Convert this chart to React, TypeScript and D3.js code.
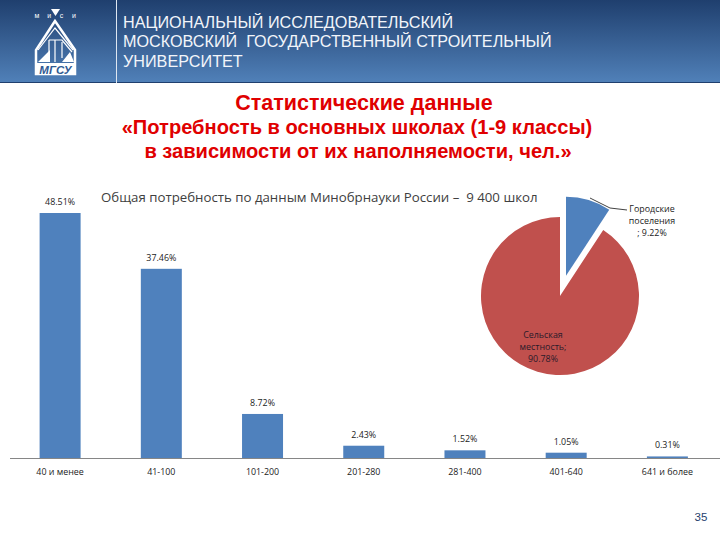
import React from 'react';
import * as d3 from 'd3';

const categories = ['40 и менее', '41-100', '101-200', '201-280', '281-400', '401-640', '641 и более'];
const shares = [48.51, 37.46, 8.72, 2.43, 1.52, 1.05, 0.31];
const pieNames = ['Городские поселения', 'Сельская местность'];
const pieShares = [9.22, 90.78];
const headerLines = [
  'НАЦИОНАЛЬНЫЙ ИССЛЕДОВАТЕЛЬСКИЙ',
  'МОСКОВСКИЙ  ГОСУДАРСТВЕННЫЙ СТРОИТЕЛЬНЫЙ',
  'УНИВЕРСИТЕТ'
];

const width = 720;
const height = 540;
const baseY = 458;
const labelFont = '"Open Sans", "Noto Sans", sans-serif';

const x = d3.scaleBand<string>().domain(categories).range([9.5, 718]).paddingInner(0.595).paddingOuter(0.2975);
const y = d3.scaleLinear().domain([0, 48.51]).range([baseY, 213]);

const pieCx = 560;
const pieCy = 296;
const pieR = 79;
const explode = 21;
const pieArcs = d3.pie<number>().sort(null)(pieShares);
const arc = d3.arc<d3.PieArcDatum<number>>().innerRadius(0).outerRadius(pieR);

const Logo = () => (
  <g fill="none" stroke="#fff">
    <path d="M51 9h9l-4.500 7z" fill="#fff" stroke="none" />
    {['м', 'и', 'с', 'и'].map((c, i) => (
      <text key={i} x={37 + i * 12.300} y={18} fontSize={7} fill="#fff" stroke="none" textAnchor="middle" fontFamily="Liberation Sans">
        {c}
      </text>
    ))}
    <path d="M55 21L36 50V74H75V50z" strokeWidth={2.500} />
    <path d="M38 50L55 28L73 50" strokeWidth={1.200} />
    <path d="M49 40V62M55 40V62M62 42V58M49 40H62L72 52" strokeWidth={1.200} />
    <path d="M38 62L50 50V62zM62 62L74 62L70 52z" fill="#fff" stroke="none" />
    <rect x={36} y={63} width={39} height={12} fill="#fff" stroke="none" />
    <text x={55.500} y={73.500} fontSize={11.500} fontWeight="bold" fontStyle="italic" fill="#2f5a93" stroke="none" textAnchor="middle" fontFamily="Liberation Sans">
      МГСУ
    </text>
  </g>
);

const App = () => {
  const fmt = (v: number) => v.toFixed(2) + '%';

  return (
    <svg width={width} height={height} style={{ position: 'absolute', left: 0, top: 0, background: '#fff' }}>
      <defs>
        <linearGradient id="head" x1="0" y1="0" x2="0" y2="1">
          <stop offset="0" stopColor="#1f3f6e" />
          <stop offset="1" stopColor="#5080b8" />
        </linearGradient>
      </defs>

      <rect width={width} height={82} fill="url(#head)" />
      <line x1={0} x2={width} y1={82.500} y2={82.500} stroke="#1f3f6e" />
      <line x1={116.500} x2={116.500} y1={0} y2={83} stroke="#dfe7f1" />
      <Logo />
      {headerLines.map((t, i) => (
        <text key={i} x={123} y={27.500 + i * 19.500} fill="#f2f5fa" fontSize={16.200} fontFamily="Liberation Sans" xmlSpace="preserve">
          {t}
        </text>
      ))}

      <g fill="#e00000" fontWeight="bold" fontFamily="Liberation Sans" textAnchor="middle">
        <text x={364} y={110} fontSize={21.500}>Статистические данные</text>
        <text x={357} y={134} fontSize={20.100}>«Потребность в основных школах (1-9 классы)</text>
        <text x={358} y={158} fontSize={20.100}>в зависимости от их наполняемости, чел.»</text>
      </g>

      <text x={101} y={201.500} fontSize={13.250} fill="#404040" fontFamily={labelFont} xmlSpace="preserve">
        Общая потребность по данным Минобрнауки России –  9 400 школ
      </text>

      {categories.map((c, i) => (
        <g key={c}>
          <rect x={x(c)} y={y(shares[i])} width={x.bandwidth()} height={baseY - y(shares[i])} fill="#4f81bd" />
          <text x={x(c)! + x.bandwidth() / 2} y={y(shares[i]) - 8} fontSize={8.900} fill="#222" textAnchor="middle" fontFamily={labelFont}>
            {fmt(shares[i])}
          </text>
          <text x={x(c)! + x.bandwidth() / 2} y={475} fontSize={8.900} fill="#222" textAnchor="middle" fontFamily={labelFont}>
            {c}
          </text>
        </g>
      ))}
      <line x1={10} x2={720} y1={baseY + 0.500} y2={baseY + 0.500} stroke="#868686" />

      <g transform={`translate(${pieCx},${pieCy})`}>
        {pieArcs.map((a, i) => {
          const mid = (a.startAngle + a.endAngle) / 2;
          const off = i === 0 ? explode : 0;
          return (
            <path
              key={pieNames[i]}
              d={arc(a)!}
              fill={i === 0 ? '#4f81bd' : '#c0504d'}
              transform={`translate(${Math.sin(mid) * off},${-Math.cos(mid) * off})`}
            />
          );
        })}
      </g>
      <polyline points="590,198 610,208 627,210" fill="none" stroke="#111" strokeWidth={0.800} />
      <g fontSize={8.900} fill="#222" textAnchor="middle" fontFamily={labelFont}>
        <text x={652} y={212}>Городские</text>
        <text x={652} y={224}>поселения</text>
        <text x={652} y={236}>; {fmt(pieShares[0])}</text>
      </g>
      <g fontSize={8.900} fill="#2a1a2a" textAnchor="middle" fontFamily={labelFont}>
        <text x={543} y={338}>Сельская</text>
        <text x={543} y={350}>местность;</text>
        <text x={543} y={362}>{fmt(pieShares[1])}</text>
      </g>

      <text x={701} y={521} fontSize={11.500} fill="#1f3f6e" textAnchor="middle" fontFamily="Liberation Sans">35</text>
    </svg>
  );
};

export default App;
